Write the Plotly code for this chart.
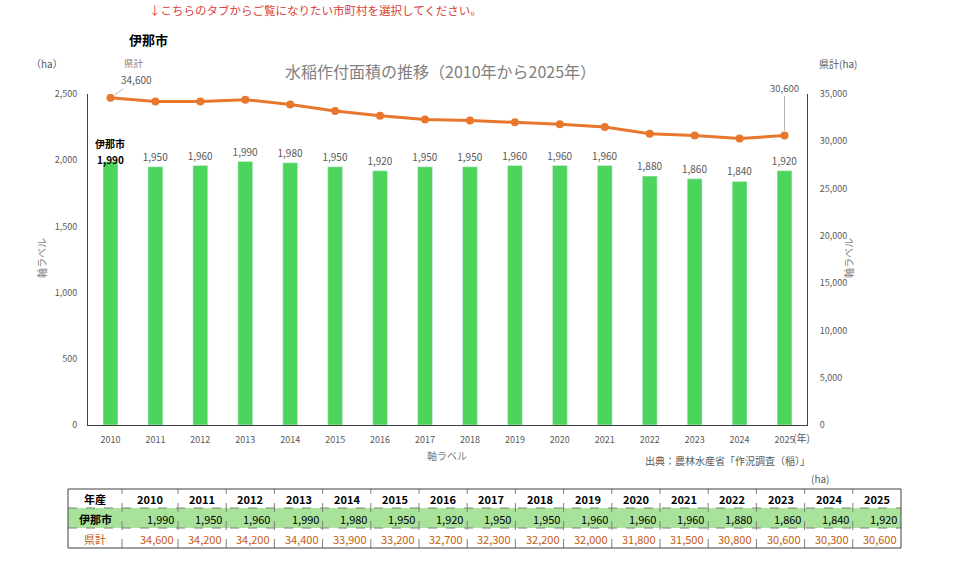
import plotly.graph_objects as go

years = [str(y) for y in range(2010, 2026)]
ina = [1990, 1950, 1960, 1990, 1980, 1950, 1920, 1950, 1950, 1960, 1960, 1960, 1880, 1860, 1840, 1920]
pref = [34600, 34200, 34200, 34400, 33900, 33200, 32700, 32300, 32200, 32000, 31800, 31500, 30800, 30600, 30300, 30600]
row_names = ["年産", "伊那市", "県計"]

W, H = 960, 569
FONT = "Noto Sans CJK JP, sans-serif"
GREEN = "#4CD45C"
ORANGE = "#E8772E"
TXT_OR = "#C55A11"
GRAY = "#595959"


def px(x):
    return x / W


def py(y):
    return 1 - y / H


fig = go.Figure()

bar_text = [""] + [f"{v:,}" for v in ina[1:]]
fig.add_trace(go.Bar(
    x=years, y=ina, name="伊那市", marker_color=GREEN, width=0.33,
    text=bar_text, textposition="outside", cliponaxis=False, constraintext="none",
    textfont=dict(size=10, color=GRAY, family=FONT),
    yaxis="y", showlegend=False,
))
fig.add_trace(go.Scatter(
    x=years, y=pref, name="県計", mode="lines+markers",
    line=dict(color=ORANGE, width=3), marker=dict(size=8, color=ORANGE),
    yaxis="y2", showlegend=False,
))

ann = []
shapes = []


def note(x, y, text, size=10, color=GRAY, xanchor="center", yanchor="middle", angle=0):
    ann.append(dict(x=px(x), y=py(y), xref="paper", yref="paper", text=text, showarrow=False,
                    font=dict(size=size, color=color, family=FONT), xanchor=xanchor,
                    yanchor=yanchor, textangle=angle))


# ---- table drawn with shapes and annotations ----
col_edges = [68, 122, 178] + [178 + 48.2 * (i + 1) for i in range(15)]
row_edges = [489, 508, 528, 548]
shapes.append(dict(type="rect", xref="paper", yref="paper", x0=px(col_edges[0]), x1=px(col_edges[-1]),
                   y0=py(row_edges[2]), y1=py(row_edges[1]), fillcolor="#A9E29B", line=dict(width=0),
                   layer="below"))
for xe in col_edges[1:-1]:
    shapes.append(dict(type="line", xref="paper", yref="paper", x0=px(xe), x1=px(xe),
                       y0=py(row_edges[-1]), y1=py(row_edges[0]),
                       line=dict(color="#7f7f7f", width=1, dash="dash")))
for ye in row_edges[1:-1]:
    shapes.append(dict(type="line", xref="paper", yref="paper", x0=px(col_edges[0]), x1=px(col_edges[-1]),
                       y0=py(ye), y1=py(ye), line=dict(color="#7f7f7f", width=1, dash="dash")))
shapes.append(dict(type="rect", xref="paper", yref="paper", x0=px(col_edges[0]), x1=px(col_edges[-1]),
                   y0=py(row_edges[-1]), y1=py(row_edges[0]), line=dict(color="#404040", width=1)))

rows_vals = [years, [f"{v:,}" for v in ina], [f"{v:,}" for v in pref]]
row_colors = ["black", "black", TXT_OR]
for r in range(3):
    yc = (row_edges[r] + row_edges[r + 1]) / 2 + 0.5
    name = row_names[r]
    if r < 2:
        name = f"<b>{name}</b>"
    note((col_edges[0] + col_edges[1]) / 2, yc, name, size=11, color=row_colors[r])
    for c, val in enumerate(rows_vals[r]):
        if r == 0:
            note((col_edges[c + 1] + col_edges[c + 2]) / 2, yc, f"<b>{val}</b>", size=11, color="black")
        else:
            note(col_edges[c + 2] - 2, yc, val, size=11, color=row_colors[r], xanchor="right")

# ---- texts ----
note(315, 10, "↓こちらのタブからご覧になりたい市町村を選択してください。", size=11.5, color="#D9413B")
note(148, 39, "<b>伊那市</b>", size=13, color="black")
note(47, 64, "（ha）", size=10, color=GRAY)
note(838, 64, "県計(ha)", size=10, color=GRAY)
note(440, 71, "水稲作付面積の推移（2010年から2025年）", size=16, color="#7f7f7f")
note(41, 258, "軸ラベル", size=10, color="#7f7f7f", angle=-90)
note(848, 258, "軸ラベル", size=10, color="#7f7f7f", angle=-90)
note(447, 455, "軸ラベル", size=10, color="#7f7f7f")
note(801, 437, "(年)", size=10, color=GRAY)
note(812, 460, "出典：農林水産省「作況調査（稲）」", size=10, color=GRAY, xanchor="right")
note(820, 478, "(ha)", size=10, color=GRAY)

# data labels for 2010 bar
ann.append(dict(x=0, y=ina[0], xref="x", yref="y", text=f"<b>{ina[0]:,}</b>",
                showarrow=False, yshift=2, font=dict(size=10, color="black", family=FONT)))
ann.append(dict(x=0, y=ina[0], xref="x", yref="y", text="<b>伊那市</b>",
                showarrow=False, yshift=18, font=dict(size=10, color="black", family=FONT)))
# line labels
ann.append(dict(x=0, y=pref[0], xref="x", yref="y2", text=f"{pref[0]:,}",
                showarrow=True, arrowhead=0, arrowwidth=0.8, arrowcolor="#a0a0a0",
                ax=26, ay=-18, standoff=5,
                font=dict(size=10, color=GRAY, family=FONT)))
ann.append(dict(x=0, y=pref[0], xref="x", yref="y2", text="県計",
                showarrow=False, xshift=24, yshift=35,
                font=dict(size=9.5, color="#7f7f7f", family=FONT)))
ann.append(dict(x=len(years) - 1, y=pref[-1], xref="x", yref="y2", text=f"{pref[-1]:,}",
                showarrow=True, arrowhead=0, arrowwidth=0.8, arrowcolor="#a0a0a0",
                ax=0, ay=-48, yanchor="middle", standoff=5,
                font=dict(size=9.5, color=GRAY, family=FONT)))

fig.update_layout(
    width=W, height=H, margin=dict(l=0, r=0, t=0, b=0, autoexpand=False),
    paper_bgcolor="white", plot_bgcolor="white",
    font=dict(family=FONT, size=10, color=GRAY),
    xaxis=dict(domain=[px(88), px(807)], type="category", range=[-0.5, 15.5],
               showline=True, linecolor="#404040", linewidth=1, ticks="",
               ticklabelstandoff=6, automargin=False,
               tickfont=dict(size=9, color=GRAY), showgrid=False, anchor="y"),
    yaxis=dict(domain=[py(425), py(94)], range=[0, 2500], tickvals=[0, 500, 1000, 1500, 2000, 2500],
               tickformat=",", showline=True, linecolor="#404040", linewidth=1, automargin=False,
               showgrid=False, zeroline=False, ticks="", ticklabelstandoff=8,
               tickfont=dict(size=9, color=GRAY)),
    yaxis2=dict(overlaying="y", side="right", range=[0, 35000],
                tickvals=[0, 5000, 10000, 15000, 20000, 25000, 30000, 35000], tickformat=",",
                showline=True, linecolor="#404040", linewidth=1, showgrid=False, zeroline=False,
                automargin=False,
                ticks="", ticklabelstandoff=10, tickfont=dict(size=9, color=GRAY), anchor="x"),
    annotations=ann,
    shapes=shapes,
)

fig.write_html("out.html")
